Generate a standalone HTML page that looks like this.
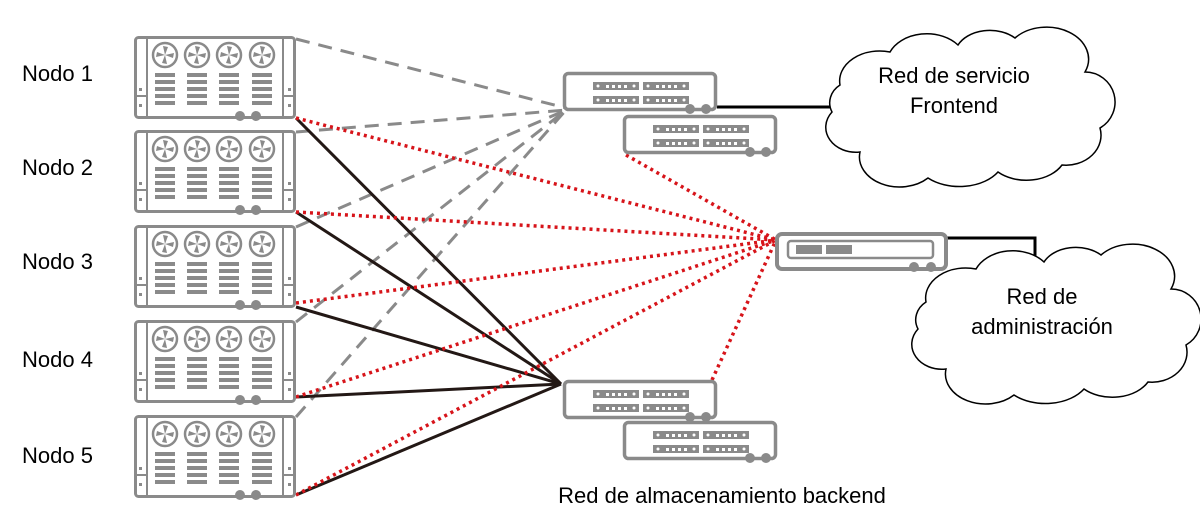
<!DOCTYPE html>
<html><head><meta charset="utf-8"><style>html,body{margin:0;padding:0;background:#fff;width:1200px;height:525px;overflow:hidden}</style></head>
<body>
<svg width="1200" height="525" viewBox="0 0 1200 525" xmlns="http://www.w3.org/2000/svg" font-family="Liberation Sans, sans-serif">
<defs>
<g id="fan"><circle r="12" fill="#fff" stroke="#8a8a8a" stroke-width="2.5"/>
<path d="M0,0 L-2,-9 L3,-8 Z M0,0 L9,-2 L8,3 Z M0,0 L2,9 L-3,8 Z M0,0 L-9,2 L-8,-3 Z" fill="#8a8a8a"/></g>
<g id="bars" fill="#8a8a8a"><rect x="0" y="0" width="20" height="4"/><rect x="0" y="7" width="20" height="4"/><rect x="0" y="14" width="20" height="4"/><rect x="0" y="21" width="20" height="4"/><rect x="0" y="28" width="20" height="4"/></g>
<g id="srv">
<rect x="1.5" y="1.5" width="159" height="80" rx="3" fill="#fff" stroke="#8a8a8a" stroke-width="3"/>
<line x1="13" y1="2" x2="13" y2="80" stroke="#8a8a8a" stroke-width="2"/>
<line x1="149" y1="2" x2="149" y2="80" stroke="#8a8a8a" stroke-width="2"/>
<line x1="2" y1="60" x2="13" y2="60" stroke="#8a8a8a" stroke-width="2"/>
<line x1="149" y1="60" x2="160" y2="60" stroke="#8a8a8a" stroke-width="2"/>
<rect x="5" y="52" width="3" height="3" fill="#8a8a8a"/><rect x="5" y="68" width="3" height="3" fill="#8a8a8a"/>
<rect x="154" y="52" width="3" height="3" fill="#8a8a8a"/><rect x="154" y="68" width="3" height="3" fill="#8a8a8a"/>
<use href="#fan" x="31" y="19"/><use href="#fan" x="63" y="19"/><use href="#fan" x="95" y="19"/><use href="#fan" x="128" y="19"/>
<use href="#bars" x="21" y="37"/><use href="#bars" x="53" y="37"/><use href="#bars" x="85" y="37"/><use href="#bars" x="118" y="37"/>
<circle cx="106" cy="80" r="5" fill="#8a8a8a"/><circle cx="122" cy="80" r="5" fill="#8a8a8a"/>
</g>
<g id="port"><rect width="46" height="8" fill="#8a8a8a"/><circle cx="5" cy="4" r="1.5" fill="#fff"/><circle cx="41" cy="4" r="1.5" fill="#fff"/><rect x="13" y="3" width="3" height="3" fill="#fff"/><rect x="19" y="3" width="3" height="3" fill="#fff"/><rect x="25" y="3" width="3" height="3" fill="#fff"/><rect x="31" y="3" width="3" height="3" fill="#fff"/></g>
<g id="sw">
<rect x="1.5" y="1.5" width="151" height="36" rx="4" fill="#fff" stroke="#8a8a8a" stroke-width="3.5"/>
<use href="#port" x="30" y="10"/><use href="#port" x="80" y="10"/><use href="#port" x="30" y="24"/><use href="#port" x="80" y="24"/>
<circle cx="127" cy="37" r="5" fill="#8a8a8a"/><circle cx="143" cy="37" r="5" fill="#8a8a8a"/>
</g>
<path id="cloud" d="M840,85 A40,30 0 0 1 890,52 A40,30 0 0 1 958,45 A35,25 0 0 1 1015,38 A42,32 0 0 1 1085,72 A30,30 0 0 1 1100,128 A35,30 0 0 1 1062,165 A40,28 0 0 1 998,172 A45,30 0 0 1 928,178 A40,30 0 0 1 860,152 A30,25 0 0 1 832,112 A25,22 0 0 1 840,85 Z" fill="#fff" stroke="#000" stroke-width="1.5"/>
</defs>

<g stroke="#8a8a8a" stroke-width="3" stroke-dasharray="14,9" fill="none">
<line x1="296" y1="39" x2="566" y2="108"/>
<line x1="296" y1="132" x2="566" y2="110"/>
<line x1="296" y1="227" x2="566" y2="110"/>
<line x1="296" y1="322" x2="566" y2="110"/>
<line x1="296" y1="417" x2="566" y2="110"/>
</g>
<g stroke="#231815" stroke-width="3" fill="none">
<line x1="296" y1="118" x2="561" y2="384"/>
<line x1="296" y1="212" x2="561" y2="384"/>
<line x1="296" y1="307" x2="561" y2="384"/>
<line x1="296" y1="397" x2="561" y2="384"/>
<line x1="296" y1="495" x2="561" y2="384"/>
</g>
<g stroke="#d7141a" stroke-width="3.5" stroke-dasharray="3,4" fill="none">
<line x1="296" y1="118" x2="776" y2="240"/>
<line x1="296" y1="212" x2="776" y2="240"/>
<line x1="296" y1="303" x2="776" y2="240"/>
<line x1="296" y1="397" x2="776" y2="240"/>
<line x1="296" y1="495" x2="776" y2="240"/>
<line x1="626" y1="155" x2="776" y2="240"/>
<line x1="712" y1="380" x2="776" y2="240"/>
</g>
<polyline points="717,107 835,107" stroke="#000" stroke-width="3" fill="none"/>
<polyline points="947,238 1035,238 1035,262" stroke="#000" stroke-width="3" fill="none"/>

<use href="#srv" x="134" y="36"/>
<use href="#srv" x="134" y="130"/>
<use href="#srv" x="134" y="225"/>
<use href="#srv" x="134" y="320"/>
<use href="#srv" x="134" y="415"/>

<g font-size="22" fill="#000">
<text x="22" y="81">Nodo 1</text>
<text x="22" y="175">Nodo 2</text>
<text x="22" y="269">Nodo 3</text>
<text x="22" y="367">Nodo 4</text>
<text x="22" y="463">Nodo 5</text>
</g>

<use href="#sw" x="563" y="72"/>
<use href="#sw" x="623" y="115"/>
<use href="#sw" x="563" y="380"/>
<use href="#sw" x="623" y="421"/>

<g>
<rect x="777" y="234" width="169" height="35" rx="5" fill="#fff" stroke="#8a8a8a" stroke-width="4"/>
<rect x="788" y="241" width="145" height="17" rx="3" fill="#fff" stroke="#8a8a8a" stroke-width="2.5"/>
<rect x="796" y="245" width="26" height="9" fill="#8a8a8a"/><rect x="826" y="245" width="26" height="9" fill="#8a8a8a"/>
<circle cx="914" cy="267" r="5" fill="#8a8a8a"/><circle cx="931" cy="267" r="5" fill="#8a8a8a"/>
</g>

<use href="#cloud"/>
<use href="#cloud" transform="translate(86,217)"/>

<g font-size="22" fill="#000" text-anchor="middle">
<text x="954" y="83">Red de servicio</text>
<text x="954" y="113">Frontend</text>
<text x="1042" y="304">Red de</text>
<text x="1042" y="334">administración</text>
<text x="722" y="503">Red de almacenamiento backend</text>
</g>
</svg>
</body></html>
